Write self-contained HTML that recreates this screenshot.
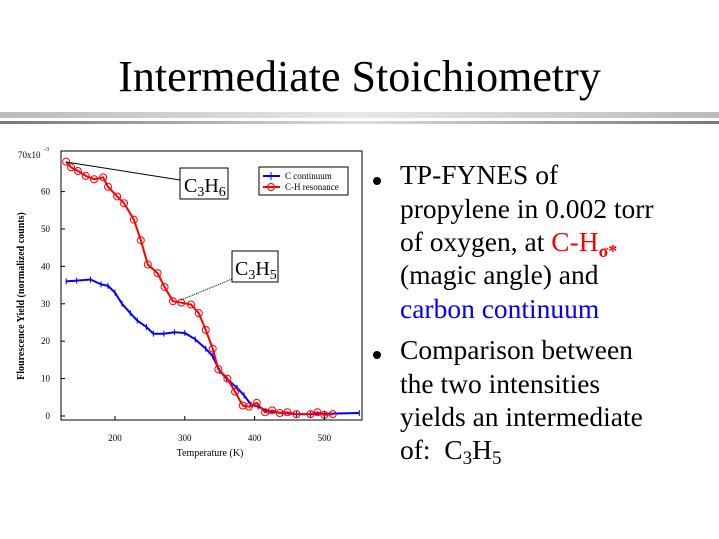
<!DOCTYPE html>
<html><head><style>
body{margin:0;background:#fff;width:719px;height:539px;overflow:hidden;position:relative;font-family:"Liberation Serif",serif}
.t{position:absolute;left:0;width:719px;text-align:center;top:51px;font-size:44px;line-height:52px}
.b1{position:absolute;left:0;top:112px;width:719px;height:6px;background:linear-gradient(90deg,#bbb,#e8e8e8 50%,#bbb)}
.b2{position:absolute;left:0;top:121px;width:719px;height:3px;background:linear-gradient(90deg,#777,#ddd 50%,#777)}
.tx{position:absolute;left:400px;font-size:27.5px;line-height:28px;white-space:nowrap}
.bu{position:absolute;left:373px;width:8px;height:8px;border-radius:50%;background:#000}
</style></head><body>
<div class="t">Intermediate Stoichiometry</div>
<div class="b1"></div><div class="b2"></div>
<div class="bu" style="top:177px"></div>
<div class="bu" style="top:351px"></div>
<div class="tx" style="top:161px">TP-FYNES of</div>
<div class="tx" style="top:195px">propylene in 0.002 torr</div>
<div class="tx" style="top:228px">of oxygen, at <span style="color:#f00">C-H<sub style="font-size:18px;font-weight:bold;vertical-align:-6px">σ*</sub></span></div>
<div class="tx" style="top:261px">(magic angle) and</div>
<div class="tx" style="top:295px;color:#00f">carbon continuum</div>
<div class="tx" style="top:336px">Comparison between</div>
<div class="tx" style="top:370px">the two intensities</div>
<div class="tx" style="top:403px">yields an intermediate</div>
<div class="tx" style="top:436px">of:&nbsp; C<sub style="font-size:19px;vertical-align:-5px">3</sub>H<sub style="font-size:19px;vertical-align:-5px">5</sub></div>
<svg id="s" width="719" height="539" style="position:absolute;left:0;top:0" font-family="Liberation Serif,serif">
<rect x="61" y="151" width="301" height="269" fill="none" stroke="#000" stroke-width="1"/>
<g id="g"></g>
<text x="18" y="290" font-size="10" font-weight="bold" transform="rotate(-90 24 290)" text-anchor="middle">Flourescence Yield (normalized counts)</text>
<text x="210" y="456" font-size="10" text-anchor="middle">Temperature (K)</text>
<text x="18" y="158" font-size="9">70x10</text><text x="44" y="151" font-size="6">-3</text>
<rect x="180" y="168" width="48" height="31" fill="#fff" stroke="#000"/>
<text x="184" y="192" font-size="20">C<tspan font-size="14" dy="4">3</tspan><tspan dy="-4">H</tspan><tspan font-size="14" dy="4">6</tspan></text>
<rect x="232" y="251" width="46" height="31" fill="#fff" stroke="#000"/>
<text x="235" y="275" font-size="20">C<tspan font-size="14" dy="4">3</tspan><tspan dy="-4">H</tspan><tspan font-size="14" dy="4">5</tspan></text>
<line x1="66" y1="162" x2="180" y2="180" stroke="#000"/>
<line x1="232" y1="279" x2="181" y2="300" stroke="#000" stroke-dasharray="1,1"/>
<rect x="259" y="167" width="89" height="28" fill="#fff" stroke="#000"/>
<line x1="263" y1="176" x2="280" y2="176" stroke="#00f" stroke-width="2"/><line x1="271" y1="172" x2="271" y2="180" stroke="#00f"/>
<text x="285" y="179" font-size="9">C continuum</text>
<line x1="263" y1="187" x2="280" y2="187" stroke="#f00" stroke-width="2"/><circle cx="271" cy="187" r="3.5" fill="none" stroke="#f00"/>
<text x="285" y="190" font-size="9">C-H resonance</text>
</svg>
<script>
var X=t=>115+(t-200)*0.698,Y=v=>416-v*3.74,g=document.getElementById('g'),h='';
var R=[[130,68],[137,66.5],[147,65.5],[158,64.2],[170,63.3],[183,63.8],[190,61.3],[203,58.7],[213,56.9],[227,52.5],[237,47],[247,40.5],[261,38.2],[271,34.5],[283,30.7],[295,30.3],[309,29.8],[320,27.5],[330,23],[340,18],[348,12.5],[361,10],[372,6.5],[383,2.8],[392,2.5],[403,3.5],[415,1],[425,1.5],[436,0.8],[447,1],[460,0.5],[480,0.5],[490,1],[500,0.3],[512,0.5]];
var B=[[130,36],[145,36.2],[165,36.5],[180,35.2],[190,34.8],[200,33],[210,30],[222,27.5],[232,25.5],[245,23.8],[255,22],[270,22],[285,22.4],[300,22.2],[315,20.5],[330,18],[340,16],[350,12],[360,10],[375,7.5],[385,5.5],[395,3],[405,2.5],[420,1.2],[440,0.8],[460,0.5],[480,0.5],[500,0.6],[550,0.8]];
h+='<polyline fill="none" stroke="#00f" stroke-width="2" points="'+B.map(p=>X(p[0])+','+Y(p[1])).join(' ')+'"/>';
B.forEach(p=>h+='<line x1="'+X(p[0])+'" x2="'+X(p[0])+'" y1="'+(Y(p[1])-3)+'" y2="'+(Y(p[1])+3)+'" stroke="#00f"/>');
h+='<polyline fill="none" stroke="#f00" stroke-width="2" points="'+R.map(p=>X(p[0])+','+Y(p[1])).join(' ')+'"/>';
R.forEach(p=>h+='<circle cx="'+X(p[0])+'" cy="'+Y(p[1])+'" r="3.5" fill="none" stroke="#f00"/>');
for(var v=0;v<=60;v+=10){h+='<line x1="61" x2="65" y1="'+Y(v)+'" y2="'+Y(v)+'" stroke="#000"/><text x="50" y="'+(Y(v)+3)+'" font-size="9" text-anchor="end">'+v+'</text>';}
for(var t=200;t<=500;t+=100){h+='<line y1="420" y2="416" x1="'+X(t)+'" x2="'+X(t)+'" stroke="#000"/><text y="441" x="'+X(t)+'" font-size="9" text-anchor="middle">'+t+'</text>';}
g.innerHTML=h;
</script>
</body></html>
